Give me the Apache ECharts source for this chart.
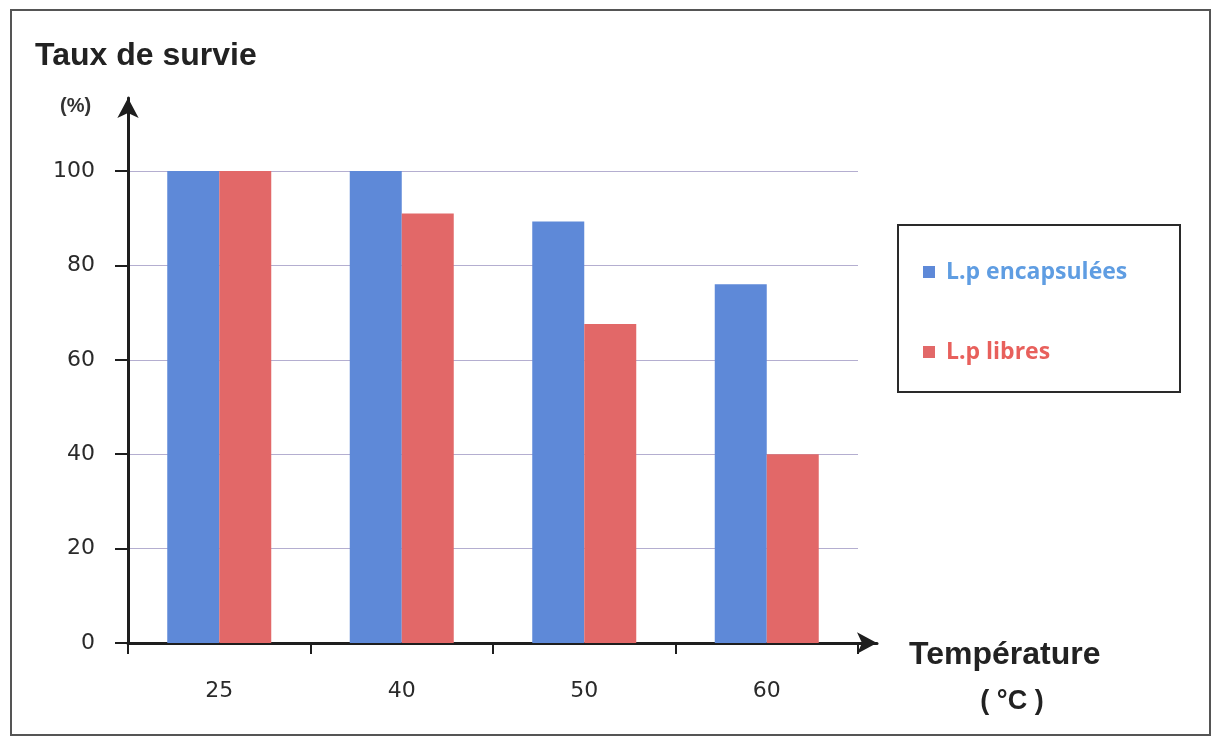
<!DOCTYPE html>
<html>
<head>
<meta charset="utf-8">
<script src="https://cdn.jsdelivr.net/npm/echarts@6/dist/echarts.min.js"></script>
<style>
html,body{margin:0;padding:0;background:#fff;}
#chart{width:1212px;height:737px;}
</style>
</head>
<body>
<div id="chart"></div>
<script>
const categories = ['25', '40', '50', '60'];
const seriesNames = ['L.p encapsulées', 'L.p libres'];
const encapsulees = [100, 100, 89.3, 76];
const libres = [100, 91, 67.6, 40];
const yTicks = [0, 20, 40, 60, 80, 100];

const blue = '#5e89d8';
const red = '#e26868';
const axisColor = '#1e1e1e';

const chart = echarts.init(document.getElementById('chart'));
const option = {
  animation: false,
  backgroundColor: '#ffffff',
  grid: [
    {left: 128, right: 354, top: 171, bottom: 94},
    {left: 128, right: 335, top: 98, bottom: 94}
  ],
  xAxis: [
    {
      type: 'category', gridIndex: 0, data: categories,
      axisLine: {show: false},
      axisTick: {show: true, length: 11, lineStyle: {color: axisColor, width: 2}},
      axisLabel: {margin: 37, fontFamily: 'DejaVu Sans', fontSize: 22, color: '#2a2a2a'},
      splitLine: {show: false}
    },
    {
      type: 'value', gridIndex: 1, min: 0, max: 1,
      axisLine: {show: true, symbol: ['none', 'arrow'], symbolSize: [16, 20],
        lineStyle: {color: axisColor, width: 3}},
      axisTick: {show: false}, axisLabel: {show: false}, splitLine: {show: false}
    }
  ],
  yAxis: [
    {
      type: 'value', gridIndex: 0, min: 0, max: 100, interval: 20,
      axisLine: {show: false},
      axisTick: {show: true, length: 13, lineStyle: {color: axisColor, width: 2}},
      axisLabel: {margin: 33, fontFamily: 'DejaVu Sans', fontSize: 22, color: '#2a2a2a',
        formatter: v => yTicks.includes(v) ? String(v) : ''},
      splitLine: {show: true, lineStyle: {color: '#b4aed0', width: 1}}
    },
    {
      type: 'value', gridIndex: 1, min: 0, max: 1,
      axisLine: {show: true, symbol: ['none', 'arrow'], symbolSize: [16, 20],
        lineStyle: {color: axisColor, width: 3}},
      axisTick: {show: false}, axisLabel: {show: false}, splitLine: {show: false}
    }
  ],
  legend: {
    orient: 'vertical',
    left: 898, top: 225,
    padding: [35, 24, 28, 25],
    itemGap: 56,
    itemWidth: 12, itemHeight: 12,
    icon: 'rect',
    borderColor: '#2a2a2a', borderWidth: 2,
    backgroundColor: '#fff',
    textStyle: {fontFamily: 'Open Sans', fontWeight: 'bold', fontSize: 23, lineHeight: 24,
      width: 210, padding: [0, 0, 0, 6]},
    data: [
      {name: seriesNames[0], textStyle: {color: '#5f9de2'}},
      {name: seriesNames[1], textStyle: {color: '#e8605c'}}
    ]
  },
  series: [
    {name: seriesNames[0], type: 'bar', xAxisIndex: 0, yAxisIndex: 0, data: encapsulees,
      barWidth: 52, barGap: '0%', itemStyle: {color: blue}},
    {name: seriesNames[1], type: 'bar', xAxisIndex: 0, yAxisIndex: 0, data: libres,
      barWidth: 52, barGap: '0%', itemStyle: {color: red}}
  ],
  graphic: [
    {type: 'rect', shape: {x: 11, y: 10, width: 1199, height: 725}, z: -10,
      style: {fill: 'none', stroke: '#555', lineWidth: 2}},
    {type: 'text', style: {x: 35, y: 56, text: 'Taux de survie', fill: '#222',
      font: 'bold 32px "Liberation Sans", Arial', textVerticalAlign: 'middle'}},
    {type: 'text', style: {x: 60, y: 106, text: '(%)', fill: '#333',
      font: 'bold 20px "Liberation Sans", Arial', textVerticalAlign: 'middle'}},
    {type: 'text', style: {x: 909, y: 655, text: 'Température', fill: '#222',
      font: 'bold 32px "Liberation Sans", Arial', textVerticalAlign: 'middle'}},
    {type: 'text', style: {x: 1012, y: 702, text: '( °C )', fill: '#222',
      font: 'bold 27px "Liberation Sans", Arial', textVerticalAlign: 'middle', textAlign: 'center'}}
  ]
};
chart.setOption(option);
</script>
</body>
</html>
